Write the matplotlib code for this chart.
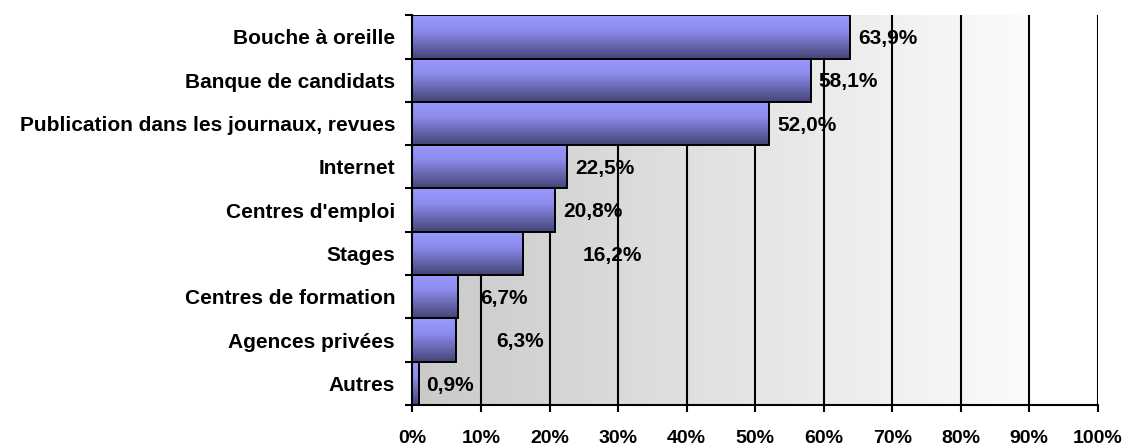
import numpy as np
import matplotlib.pyplot as plt
from matplotlib.colors import LinearSegmentedColormap

plt.rcParams['font.family'] = ['Liberation Sans', 'DejaVu Sans']
plt.rcParams['font.weight'] = 'bold'

categories = ["Bouche à oreille", "Banque de candidats",
              "Publication dans les journaux, revues", "Internet",
              "Centres d'emploi", "Stages", "Centres de formation",
              "Agences privées", "Autres"]
values = [63.9, 58.1, 52.0, 22.5, 20.8, 16.2, 6.7, 6.3, 0.9]
labels = ["63,9%", "58,1%", "52,0%", "22,5%", "20,8%", "16,2%",
          "6,7%", "6,3%", "0,9%"]
# where each value label starts, in % along the axis
label_x = [65.0, 59.3, 53.2, 23.7, 22.0, 24.9, 9.9, 12.2, 2.0]
xticks = np.arange(0, 101, 10)

fig = plt.figure(figsize=(11.27, 4.47), dpi=100)
ax = fig.add_axes([0.366, 0.094, 0.608, 0.872])

n = len(categories)
ypos = np.arange(n)[::-1]

# grey to white background running left to right
bg_cmap = LinearSegmentedColormap.from_list('bg', [(0.79,) * 3, (0.985,) * 3])
ax.imshow(np.linspace(0, 1, 256)[None, :], cmap=bg_cmap, aspect='auto',
          extent=(0, 90, -0.5, n - 0.5), zorder=0)

for x in xticks:
    ax.axvline(x, color='black', lw=1.5, zorder=1)

bar_cmap = LinearSegmentedColormap.from_list(
    'bar', [(0, (0.60, 0.60, 1.0)), (0.35, (0.55, 0.55, 0.93)),
            (1, (0.27, 0.27, 0.47))])
grad = np.linspace(0, 1, 100)[:, None]
for y, v in zip(ypos, values):
    ax.imshow(grad, cmap=bar_cmap, aspect='auto',
              extent=(0, v, y - 0.5, y + 0.5), zorder=2)
ax.barh(ypos, values, height=1.0, fill=False, edgecolor='black',
        linewidth=1.4, zorder=3)

for y, lx, lab in zip(ypos, label_x, labels):
    ax.text(lx, y - 0.04, lab, va='center', ha='left', fontsize=15,
            fontweight='bold', zorder=4)

ax.set_xlim(0, 100)
ax.set_ylim(-0.5, n - 0.5)
ax.set_xticks(xticks)
ax.set_xticklabels([f"{x}%" for x in xticks], fontsize=14, fontweight='bold')
ax.set_yticks(np.arange(n + 1) - 0.5)
ax.set_yticklabels([])
ax.set_yticks(ypos, minor=True)
ax.set_yticklabels(categories, minor=True, fontsize=15, fontweight='bold')
ax.tick_params(axis='y', which='major', length=5, width=1.5, direction='out')
ax.tick_params(axis='y', which='minor', length=0, pad=12.5)
ax.tick_params(axis='x', length=5, width=1.5, pad=13)

for s in ['top', 'right']:
    ax.spines[s].set_visible(False)
for s in ['left', 'bottom']:
    ax.spines[s].set_linewidth(1.5)
ax.set_facecolor('white')

fig.savefig('out.png', dpi=100)
